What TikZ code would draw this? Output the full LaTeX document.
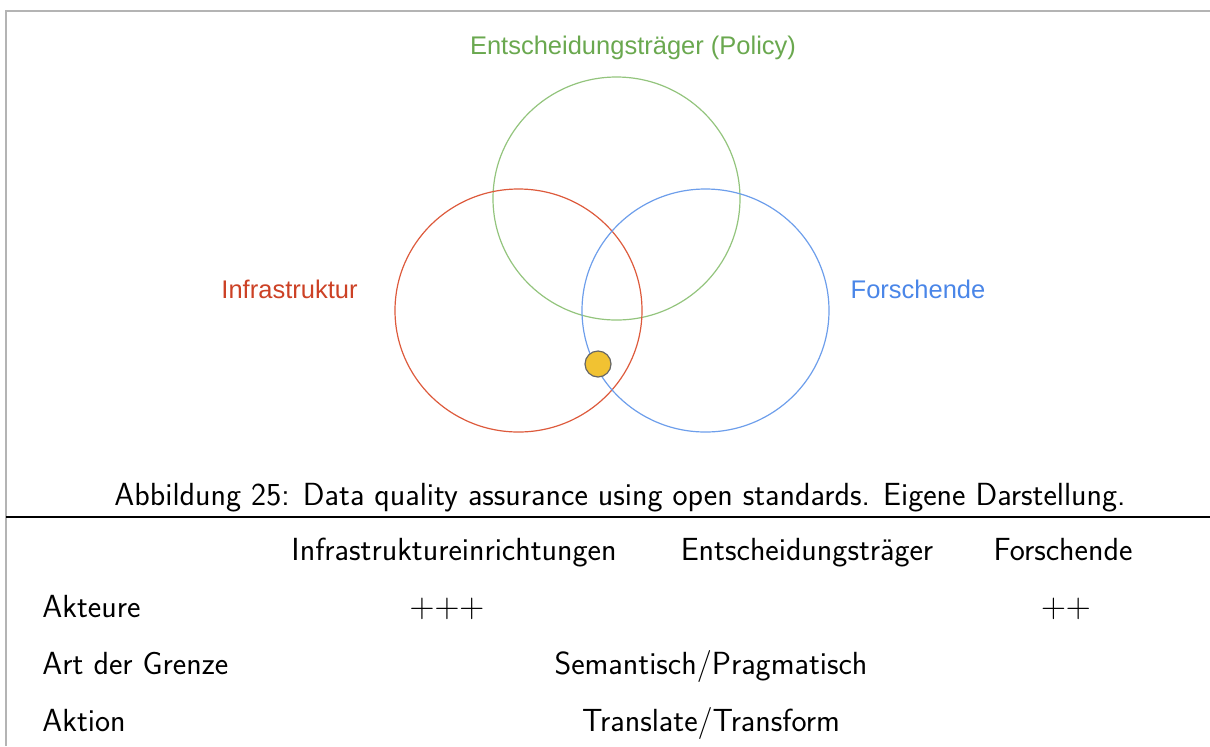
\documentclass[tikz,border=0pt]{standalone}
\usepackage{fontspec}
\newfontfamily\arialfont{Liberation Sans}
\definecolor{vgreen}{HTML}{6AA84F}
\definecolor{vgreenline}{HTML}{93C47D}
\definecolor{vred}{HTML}{CC4125}
\definecolor{vredline}{HTML}{DD5A3C}
\definecolor{vblue}{HTML}{4A86E8}
\definecolor{vblueline}{HTML}{6D9EEB}
\definecolor{vyellow}{HTML}{F1C232}
\definecolor{framegray}{HTML}{B4B4B4}
\usetikzlibrary{positioning,shapes.geometric}

\begin{document}
\begin{tikzpicture}[x=0.5pt, y=-0.5pt,
    venn/.style={ellipse, draw, line width=0.6pt, minimum width=123.5pt, minimum height=121.5pt, inner sep=0pt},
    vennlbl/.style={font=\arialfont\fontsize{12.75pt}{15pt}\selectfont, anchor=base, inner sep=0pt},
    tabtxt/.style={font=\sffamily\fontsize{16pt}{19pt}\selectfont, anchor=base, inner sep=0pt},
    dot/.style={circle, draw=black!60, fill=vyellow, line width=0.6pt, minimum size=13pt, inner sep=0pt}
  ]
    \useasboundingbox (0,0) rectangle (1210,746);
    % frame
    \coordinate (fbl) at (6,746);
    \coordinate (ftl) at (6,11);
    \coordinate (ftr) at (1210,11);
    \draw[framegray, line width=1pt] (fbl) -- (ftl) -- (ftr);

    % Venn circles
    \node[venn, draw=vgreenline] (policy) at (616.5,198.5) {};
    \node[venn, draw=vredline]   (infra)  at (518.5,310.5) {};
    \node[venn, draw=vblueline]  (forsch) at (705.5,310.5) {};
    \node[dot] (spot) at (598,364) {};

    % labels
    \node[vennlbl, vgreen] (policylbl) at (633,54)  {Entscheidungsträger (Policy)};
    \node[vennlbl, vred]   (infralbl)  at (289.5,298) {Infrastruktur};
    \node[vennlbl, vblue]  (forschlbl) at (918,298) {Forschende};

    % caption and rule
    \node[tabtxt] (caption) at (620,505) {Abbildung 25: Data quality assurance using open standards. Eigene Darstellung.};
    \coordinate (rulel) at (6,517);
    \coordinate (ruler) at (1210,517);
    \draw[line width=0.7pt] (rulel) -- (ruler);

    % table
    \node[tabtxt] (hinfra)  at (454,560)  {Infrastruktureinrichtungen};
    \node[tabtxt] (hpolicy) at (807,560)  {Entscheidungsträger};
    \node[tabtxt] (hforsch) at (1063,560) {Forschende};

    \node[tabtxt, anchor=base west] (rakteure) at (42,617) {Akteure};
    \node[tabtxt, anchor=base west] (rgrenze)  at (42,674) {Art der Grenze};
    \node[tabtxt, anchor=base west] (raktion)  at (42,731) {Aktion};

    \node[tabtxt] (vinfra)  at (447,617)  {$+{+}+$};
    \node[tabtxt] (vforsch) at (1066,617) {$+{+}$};
    \node[tabtxt] (vgrenze) at (711,674)  {Semantisch/Pragmatisch};
    \node[tabtxt] (vaktion) at (711,731)  {Translate/Transform};
  \end{tikzpicture}
\end{document}
